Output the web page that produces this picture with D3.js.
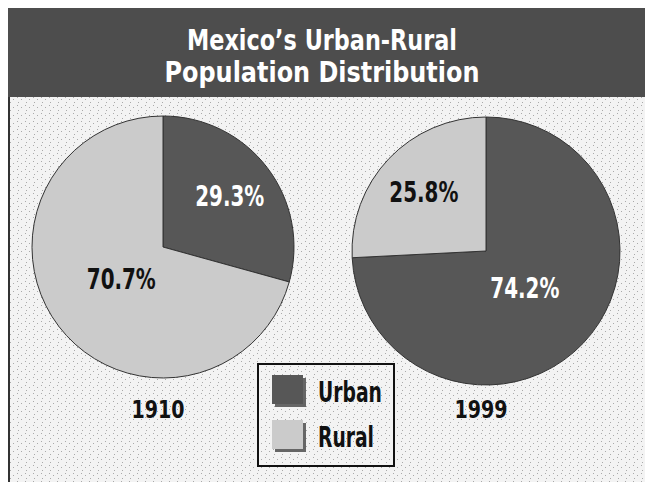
<!DOCTYPE html>
<html lang="en">
<head>
  <meta charset="UTF-8">
  <title>Mexico's Urban-Rural Population Distribution</title>
  <script src="https://d3js.org/d3.v7.min.js"></script>
  <style>
    body { margin: 0; background: #fff; }
    svg { display: block; }
    .cond { font-family: "Liberation Sans Narrow", "DejaVu Sans Condensed", "Roboto Condensed", sans-serif; font-weight: bold; }
  </style>
</head>
<body>
  <svg width="645" height="482"></svg>
  <script>
    // data
    const years = ['1910', '1999'];
    const categories = ['Urban', 'Rural'];
    const urban = [29.3, 74.2];
    const rural = [70.7, 25.8];
    const titleLines = ['Mexico\u2019s Urban-Rural', 'Population Distribution'];

    const W = 645, H = 482;
    const svg = d3.select('svg');

    const colors = { Urban: '#575757', Rural: '#cbcbcb' };
    const labelColors = { Urban: '#ffffff', Rural: '#111111' };

    // stipple texture
    const defs = svg.append('defs');
    const pat = defs.append('pattern').attr('id', 'stip').attr('width', 8).attr('height', 8)
      .attr('patternUnits', 'userSpaceOnUse');
    pat.append('rect').attr('width', 8).attr('height', 8).attr('fill', '#f3f3f3');
    [[1,1],[5,3],[2,6]].forEach(([x, y]) =>
      pat.append('rect').attr('x', x).attr('y', y).attr('width', 1).attr('height', 1).attr('fill', '#aaa'));

    // frame + background
    svg.append('rect').attr('x', 9).attr('y', 97).attr('width', W - 9).attr('height', H - 97).attr('fill', 'url(#stip)');
    svg.append('line').attr('x1', 9).attr('x2', 9).attr('y1', 8).attr('y2', H).attr('stroke', '#333').attr('stroke-width', 2);
    svg.append('rect').attr('x', 8).attr('y', 8).attr('width', W - 8).attr('height', 89).attr('fill', '#4d4d4d');

    const titleWidths = [270, 315];
    titleLines.forEach((t, i) => {
      svg.append('text').attr('class', 'cond')
        .attr('x', 322).attr('y', 50 + i * 32)
        .attr('text-anchor', 'middle')
        .attr('fill', '#fff').attr('font-size', 29)
        .attr('textLength', titleWidths[i]).attr('lengthAdjust', 'spacingAndGlyphs')
        .text(t);
    });

    const pies = [
      { cx: 163, cy: 247, r: 131 },
      { cx: 486, cy: 251, r: 134 }
    ];

    const pie = d3.pie().sort(null).value(d => d.value);

    years.forEach((yr, i) => {
      const p = pies[i];
      const slices = pie(categories.map((c, j) => ({ cat: c, value: j === 0 ? urban[i] : rural[i] })));
      const arc = d3.arc().innerRadius(0).outerRadius(p.r);
      const g = svg.append('g').attr('transform', `translate(${p.cx},${p.cy})`);

      g.selectAll('path').data(slices).join('path')
        .attr('d', arc)
        .attr('fill', d => colors[d.data.cat])
        .attr('stroke', '#333').attr('stroke-width', 1);

      g.selectAll('text').data(slices).join('text')
        .attr('class', 'cond')
        .attr('transform', d => {
          const k = d.data.value < 50 ? 0.64 : 0.4;
          const c = d3.arc().innerRadius(p.r * k).outerRadius(p.r * k).centroid(d);
          return `translate(${c[0]},${c[1]})`;
        })
        .attr('dy', '0.36em')
        .attr('text-anchor', 'middle')
        .attr('font-size', 28)
        .attr('fill', d => labelColors[d.data.cat])
        .attr('textLength', 69).attr('lengthAdjust', 'spacingAndGlyphs')
        .text(d => d.data.value.toFixed(1) + '%');

      svg.append('text').attr('class', 'cond')
        .attr('x', p.cx - 5).attr('y', 418)
        .attr('text-anchor', 'middle')
        .attr('font-size', 25).attr('fill', '#111')
        .attr('textLength', 53).attr('lengthAdjust', 'spacingAndGlyphs')
        .text(yr);
    });

    // legend
    const lg = svg.append('g').attr('transform', 'translate(258,364)');
    lg.append('rect').attr('width', 136).attr('height', 102)
      .attr('fill', 'none').attr('stroke', '#111').attr('stroke-width', 2);
    categories.forEach((c, i) => {
      const y = 11 + i * 45;
      lg.append('rect').attr('x', 17).attr('y', y + 3).attr('width', 31).attr('height', 29).attr('fill', '#666');
      lg.append('rect').attr('x', 14).attr('y', y).attr('width', 31).attr('height', 29).attr('fill', colors[c]);
      lg.append('text').attr('class', 'cond')
        .attr('x', 60).attr('y', y + 27)
        .attr('font-size', 28).attr('fill', '#111')
        .attr('textLength', i === 0 ? 64 : 56).attr('lengthAdjust', 'spacingAndGlyphs')
        .text(c);
    });
  </script>
</body>
</html>
